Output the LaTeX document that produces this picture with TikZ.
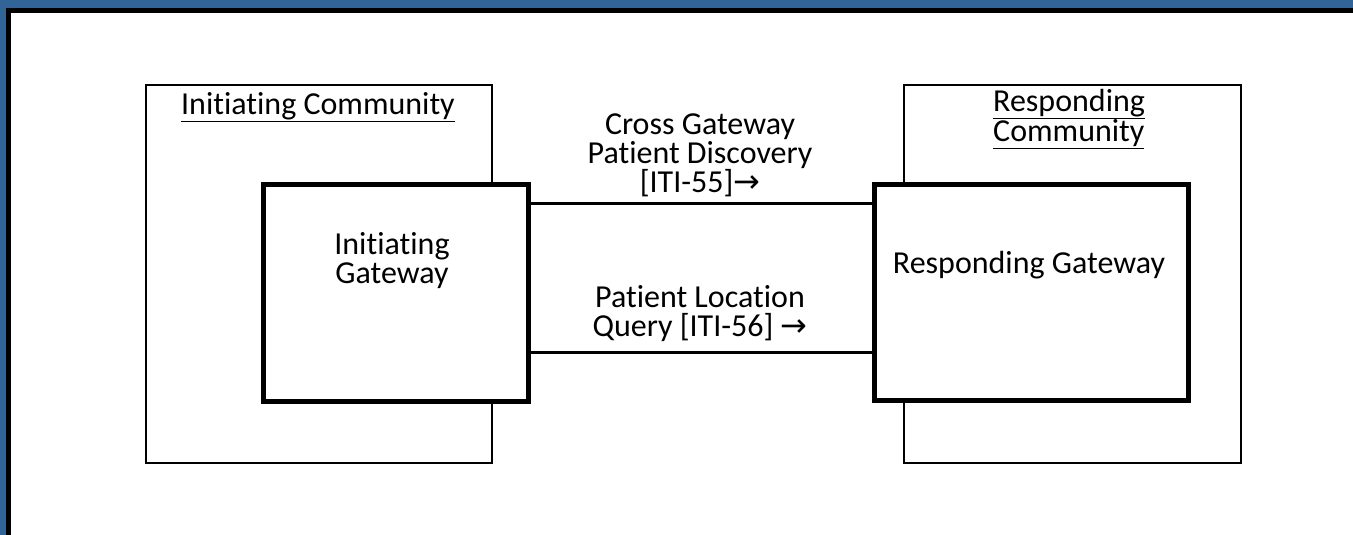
\documentclass[tikz,border=0pt]{standalone}
\usepackage{fontspec}
\setmainfont{Carlito}[Ligatures=NoCommon]
\newfontfamily\arrowfont{DejaVu Sans}
\definecolor{frameblue}{RGB}{49,101,152}
\newcommand{\rarr}{{\arrowfont\fontsize{32}{29}\selectfont →}}
\begin{document}
\begin{tikzpicture}[x=1pt,y=-1pt,
  community/.style={draw=black,line width=2.2pt,fill=white,inner sep=0pt,anchor=north west},
  gateway/.style={draw=black,line width=5pt,fill=white,inner sep=0pt,anchor=north west},
  label/.style={inner sep=0pt,align=center,font=\fontsize{32}{29}\selectfont},
  link/.style={line width=3pt}]
\useasboundingbox (0,0) rectangle (1353,535);
% frame (top and left)
\fill[frameblue] (0,0) rectangle (1353,8);
\fill[frameblue] (0,0) rectangle (6,535);
\fill[black] (6,8) rectangle (1353,13);
\fill[black] (6,8) rectangle (11,535);
% communities
\node[community,minimum width=346pt,minimum height=378pt] (ic) at (145,84) {};
\node[community,minimum width=337pt,minimum height=378pt] (rc) at (903,84) {};
% gateways
\node[gateway,minimum width=265pt,minimum height=217pt] (ig) at (261,182) {};
\node[gateway,minimum width=314pt,minimum height=216pt] (rg) at (872,182) {};
% labels
\node[label] (ict) at (318,107) {\underline{Initiating Community}};
\node[label,align=left,anchor=west,font=\fontsize{32}{26}\selectfont] (rct) at (993,119) {\underline{Responding}\\\underline{Community}};
\node[label] (igt) at (392,261) {Initiating\\Gateway};
\node[label] (rgt) at (1029,265) {Responding Gateway};
% connectors
\coordinate (t) at (0,203);
\coordinate (b) at (0,352);
\draw[link] (ig.east |- t) -- (rg.west |- t);
\draw[link] (ig.east |- b) -- (rg.west |- b);
\node[label] (l1) at (700,155) {Cross Gateway\\Patient Discovery\\{}[ITI-55]\rarr};
\node[label] (l2) at (700,314) {Patient Location\\Query [ITI-56] \rarr};
\end{tikzpicture}
\end{document}
